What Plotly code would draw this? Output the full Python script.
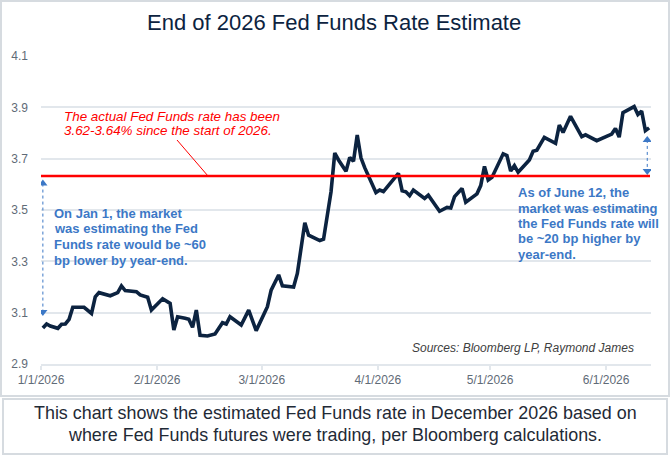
import plotly.graph_objects as go

# ---------------- data ----------------
dates = ["2026-01-01","2026-01-02","2026-01-03","2026-01-05","2026-01-06","2026-01-07","2026-01-08","2026-01-09",
         "2026-01-12","2026-01-13","2026-01-14","2026-01-15","2026-01-16","2026-01-19","2026-01-21","2026-01-22",
         "2026-01-23","2026-01-26","2026-01-27","2026-01-29","2026-01-30",
         "2026-02-02","2026-02-04","2026-02-05","2026-02-06","2026-02-08","2026-02-09","2026-02-10","2026-02-11",
         "2026-02-12","2026-02-14","2026-02-16","2026-02-18","2026-02-19","2026-02-20","2026-02-23","2026-02-25",
         "2026-02-27",
         "2026-03-02","2026-03-03","2026-03-05","2026-03-06","2026-03-09","2026-03-10","2026-03-12","2026-03-13",
         "2026-03-16","2026-03-17","2026-03-18","2026-03-19","2026-03-20","2026-03-21","2026-03-23","2026-03-24",
         "2026-03-25","2026-03-26","2026-03-27","2026-03-28","2026-03-31",
         "2026-04-01","2026-04-02","2026-04-06","2026-04-07","2026-04-08","2026-04-09","2026-04-10","2026-04-13",
         "2026-04-14","2026-04-17","2026-04-19","2026-04-20","2026-04-21","2026-04-23","2026-04-24","2026-04-27",
         "2026-04-28","2026-04-29","2026-04-30",
         "2026-05-01","2026-05-04","2026-05-05","2026-05-06","2026-05-07","2026-05-08","2026-05-11","2026-05-12",
         "2026-05-13","2026-05-15","2026-05-18","2026-05-19","2026-05-20","2026-05-22","2026-05-25","2026-05-26",
         "2026-05-29",
         "2026-06-01","2026-06-02","2026-06-03","2026-06-04","2026-06-05","2026-06-08","2026-06-09","2026-06-10",
         "2026-06-11","2026-06-12"]

est_rate = [3.040,3.056,3.048,3.039,3.055,3.056,3.074,3.121,3.121,3.110,
            3.097,3.162,3.178,3.166,3.178,3.204,3.186,3.182,3.169,3.160,
            3.110,3.154,3.136,3.032,3.084,3.078,3.074,3.043,3.110,3.012,
            3.009,3.017,3.061,3.056,3.084,3.052,3.110,3.030,3.123,3.188,
            3.247,3.205,3.200,3.253,3.450,3.402,3.381,3.386,3.474,3.571,
            3.722,3.695,3.651,3.705,3.690,3.792,3.703,3.665,3.568,3.578,
            3.572,3.643,3.575,3.571,3.556,3.578,3.545,3.558,3.495,3.510,
            3.508,3.552,3.584,3.530,3.563,3.595,3.670,3.617,3.627,3.719,
            3.712,3.652,3.673,3.647,3.695,3.729,3.733,3.783,3.760,3.831,
            3.802,3.865,3.786,3.793,3.770,3.792,3.796,3.818,3.784,3.879,
            3.903,3.872,3.885,3.809,3.820]

actual_rate = 3.632

x_tick_vals = ["2026-01-01", "2026-02-01", "2026-03-01", "2026-04-01", "2026-05-01", "2026-06-01"]
x_tick_text = ["1/1/2026", "2/1/2026", "3/1/2026", "4/1/2026", "5/1/2026", "6/1/2026"]
y_tick_vals = [2.9, 3.1, 3.3, 3.5, 3.7, 3.9, 4.1]
y_tick_text = ["2.9", "3.1", "3.3", "3.5", "3.7", "3.9", "4.1"]

title_text = "End of 2026 Fed Funds Rate Estimate"
red_note = ["The actual Fed Funds rate has been", "3.62-3.64% since the start of 2026."]
left_note = ["On Jan 1, the market", "was estimating the Fed", "Funds rate would be ~60", "bp lower by year-end."]
right_note = ["As of June 12, the", "market was estimating", "the Fed Funds rate will", "be ~20 bp higher by", "year-end."]
source_text = "Sources: Bloomberg LP, Raymond James"
caption = ["This chart shows the estimated Fed Funds rate in December 2026 based on",
           "where Fed Funds futures were trading, per Bloomberg calculations."]

# arrow end values (decorations)
left_arrow_vals = [3.603, 3.103]
right_arrow_vals = [3.773, 3.652]

# ---------------- layout helpers ----------------
W, H = 670, 457
PL, PR, PT, PB = 41, 651, 56, 364   # plot area in pixels


def fx(px):
    return (px - PL) / (PR - PL)


def fy(py):
    return (PB - py) / (PB - PT)


FONT = "Liberation Sans, Arial, sans-serif"
NAVY = "#0c2340"
BLUE = "#3c78c6"
RED = "#ff0000"
GRID = "#e2e7ec"

fig = go.Figure()

fig.add_trace(go.Scatter(
    x=dates, y=est_rate, mode="lines",
    line=dict(color=NAVY, width=3.6),
    xperiod=86400000, xperiodalignment="middle",
    hoverinfo="skip", showlegend=False))

# dotted double arrows
fig.add_trace(go.Scatter(
    x=[dates[0], dates[0]], y=left_arrow_vals, mode="lines+markers",
    xperiod=86400000, xperiodalignment="middle",
    line=dict(color=BLUE, width=1, dash="dot"),
    marker=dict(symbol=["triangle-up", "triangle-down"], size=8, color=BLUE),
    hoverinfo="skip", showlegend=False))
fig.add_trace(go.Scatter(
    x=[dates[-1], dates[-1]], y=right_arrow_vals, mode="lines+markers",
    line=dict(color=BLUE, width=1, dash="dot"),
    marker=dict(symbol=["triangle-up", "triangle-down"], size=8, color=BLUE),
    hoverinfo="skip", showlegend=False))

shapes = [
    # panels
    dict(type="rect", xref="paper", yref="paper", x0=fx(1), x1=fx(669), y0=fy(1), y1=fy(396),
         line=dict(color="#d6dbe0", width=2), fillcolor="white", layer="below"),
    dict(type="rect", xref="paper", yref="paper", x0=fx(3), x1=fx(667), y0=fy(399), y1=fy(454),
         line=dict(color="#d6dbe0", width=2), fillcolor="white", layer="below"),
    # actual rate line
    dict(type="line", xref="x domain", yref="y", x0=0, x1=fx(650), y0=actual_rate, y1=actual_rate,
         line=dict(color=RED, width=2.5)),
    # red leader line
    dict(type="line", xref="paper", yref="paper", x0=fx(177), y0=fy(140), x1=fx(208), y1=fy(176),
         line=dict(color=RED, width=1)),
]

annotations = [
    dict(text=title_text, x=fx(334), y=fy(23), xref="paper", yref="paper", showarrow=False,
         xanchor="center", yanchor="middle", font=dict(family=FONT, size=22, color=NAVY)),
    dict(text=source_text, x=fx(410), y=fy(348), xref="paper", yref="paper", showarrow=False,
         xanchor="left", yanchor="middle", font=dict(family=FONT, size=12, color="#404040", style="italic")),
]
for i, t in enumerate(red_note):
    annotations.append(dict(text=t, x=fx(62), y=fy(116.5 + 14 * i), xref="paper", yref="paper",
                            showarrow=False, xanchor="left", yanchor="middle",
                            font=dict(family=FONT, size=13.4, color=RED, style="italic")))
for i, t in enumerate(left_note):
    annotations.append(dict(text="<b>" + t + "</b>", x=fx(51.5), y=fy(213 + 15.7 * i), xref="paper", yref="paper",
                            showarrow=False, xanchor="left", yanchor="middle",
                            font=dict(family=FONT, size=13, color=BLUE)))
for i, t in enumerate(right_note):
    annotations.append(dict(text="<b>" + t + "</b>", x=fx(515.5), y=fy(192.7 + 15.4 * i), xref="paper", yref="paper",
                            showarrow=False, xanchor="left", yanchor="middle",
                            font=dict(family=FONT, size=13, color=BLUE)))
for i, t in enumerate(caption):
    annotations.append(dict(text=t, x=fx(335), y=fy(413 + 22 * i), xref="paper", yref="paper",
                            showarrow=False, xanchor="center", yanchor="middle",
                            font=dict(family=FONT, size=17.9, color="#1f2a36")))

fig.update_layout(
    width=W, height=H,
    margin=dict(l=PL, r=W - PR, t=PT, b=H - PB, pad=0),
    paper_bgcolor="white", plot_bgcolor="rgba(0,0,0,0)",
    shapes=shapes, annotations=annotations,
    showlegend=False,
    font=dict(family=FONT),
)
fig.update_xaxes(
    type="date", range=["2026-01-01", "2026-06-13"],
    tickvals=x_tick_vals, ticktext=x_tick_text,
    showgrid=False, zeroline=False,
    showline=True, linecolor=GRID, linewidth=1.5,
    ticks="outside", ticklen=4, tickcolor=GRID, tickwidth=1.5,
    tickfont=dict(family=FONT, size=12, color="#5f6b77"),
)
fig.update_yaxes(
    range=[2.9, 4.1], tickvals=y_tick_vals, ticktext=y_tick_text,
    showgrid=True, gridcolor=GRID, gridwidth=1.5, zeroline=False, showline=False,
    ticks="", ticklabelstandoff=12,
    tickfont=dict(family=FONT, size=12, color="#5f6b77"),
)

fig.write_html("out.html")
